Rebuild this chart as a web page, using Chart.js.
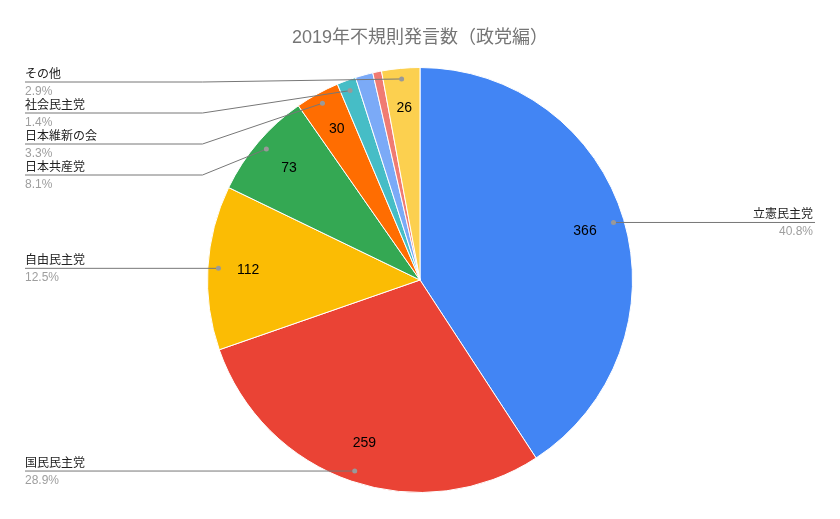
<!DOCTYPE html>
<html lang="ja">
<head>
    <meta charset="UTF-8">
    <title>2019年不規則発言数（政党編）</title>
    <script src="https://cdn.jsdelivr.net/npm/chart.js"></script>
    <style>
        body { margin: 0; background: #fff; }
        #pieChart { display: block; }
    </style>
</head>
<body>
<canvas id="pieChart" width="840" height="519"></canvas>

<script>
    // 政党ごとの不規則発言数（名前のない2つの小さい扇は凡例なし）
    const parties = ['立憲民主党', '国民民主党', '自由民主党', '日本共産党', '日本維新の会', '社会民主党', '', '', 'その他'];
    const counts = [366, 259, 112, 73, 30, 13, 12, 6, 26];
    const sliceColors = ['#4285F4', '#EA4335', '#FBBC04', '#34A853', '#FF6D01', '#46BDC6', '#7BAAF7', '#F07B72', '#FCD04F'];

    const FONT = "Arial, 'Liberation Sans', 'Noto Sans CJK JP', sans-serif";
    const total = counts.reduce((a, b) => a + b, 0);

    // ラベルと引き出し線
    const calloutPlugin = {
        id: 'callouts',
        afterDatasetsDraw(chart) {
            const ctx = chart.ctx;
            const meta = chart.getDatasetMeta(0);
            const left = [];
            const right = [];

            ctx.save();
            meta.data.forEach((arc, i) => {
                const p = arc.getProps(['x', 'y', 'startAngle', 'endAngle', 'outerRadius'], true);
                const mid = (p.startAngle + p.endAngle) / 2;
                const span = p.endAngle - p.startAngle;

                // 扇の中の数値
                if (span > 0.14) {
                    const r = p.outerRadius * 0.81;
                    ctx.font = '14px ' + FONT;
                    ctx.fillStyle = '#000';
                    ctx.textAlign = 'center';
                    ctx.textBaseline = 'middle';
                    ctx.fillText(String(counts[i]), p.x + r * Math.cos(mid), p.y + r * Math.sin(mid));
                }

                if (!parties[i]) return;
                const rd = p.outerRadius * 0.95;
                const item = {
                    i: i,
                    cx: p.x,
                    R: p.outerRadius,
                    dx: p.x + rd * Math.cos(mid),
                    dy: p.y + rd * Math.sin(mid)
                };
                (item.dx < p.x ? left : right).push(item);
            });

            const gap = 31;
            const minY = 82;
            [left, right].forEach(side => {
                side.sort((a, b) => a.dy - b.dy);
                let prev = -Infinity;
                side.forEach(it => {
                    it.ly = Math.max(it.dy, prev + gap, minY);
                    prev = it.ly;
                });
            });

            const pct = i => (counts[i] / total * 100).toFixed(1) + '%';

            ctx.lineWidth = 1;
            ctx.strokeStyle = '#777';
            left.forEach(it => {
                const xText = 25;
                const elbow = it.cx - it.R - 5;
                ctx.beginPath();
                ctx.moveTo(xText, it.ly);
                if (Math.abs(it.ly - it.dy) > 0.5) {
                    ctx.lineTo(elbow, it.ly);
                }
                ctx.lineTo(it.dx, it.dy);
                ctx.stroke();
                drawDot(ctx, it.dx, it.dy);
                drawText(ctx, it.i, xText, it.ly, 'left');
            });
            right.forEach(it => {
                const xEnd = chart.width - 25;
                const elbow = it.cx + it.R + 5;
                ctx.beginPath();
                ctx.moveTo(xEnd, it.ly);
                if (Math.abs(it.ly - it.dy) > 0.5) {
                    ctx.lineTo(elbow, it.ly);
                }
                ctx.lineTo(it.dx, it.dy);
                ctx.stroke();
                drawDot(ctx, it.dx, it.dy);
                drawText(ctx, it.i, xEnd - 2, it.ly, 'right');
            });
            ctx.restore();

            function drawDot(c, x, y) {
                c.beginPath();
                c.arc(x, y, 2.5, 0, Math.PI * 2);
                c.fillStyle = '#999';
                c.fill();
            }

            function drawText(c, i, x, y, align) {
                c.font = '12px ' + FONT;
                c.textAlign = align;
                c.textBaseline = 'alphabetic';
                c.fillStyle = '#222';
                c.fillText(parties[i], x, y - 4);
                c.fillStyle = '#9e9e9e';
                c.fillText(pct(i), x, y + 13);
            }
        }
    };

    new Chart(document.getElementById('pieChart'), {
        type: 'pie',
        data: {
            labels: parties,
            datasets: [{
                data: counts,
                backgroundColor: sliceColors,
                borderColor: '#fff',
                borderWidth: 1
            }]
        },
        options: {
            responsive: false,
            animation: false,
            layout: {
                padding: { top: 0, bottom: 26, left: 0, right: 0 }
            },
            plugins: {
                legend: { display: false },
                tooltip: { enabled: false },
                title: {
                    display: true,
                    text: '2019年不規則発言数（政党編）',
                    color: '#757575',
                    font: { family: FONT, size: 18, weight: 'normal', lineHeight: 1.2 },
                    padding: { top: 27, bottom: 18.4 }
                }
            }
        },
        plugins: [calloutPlugin]
    });
</script>
</body>
</html>
